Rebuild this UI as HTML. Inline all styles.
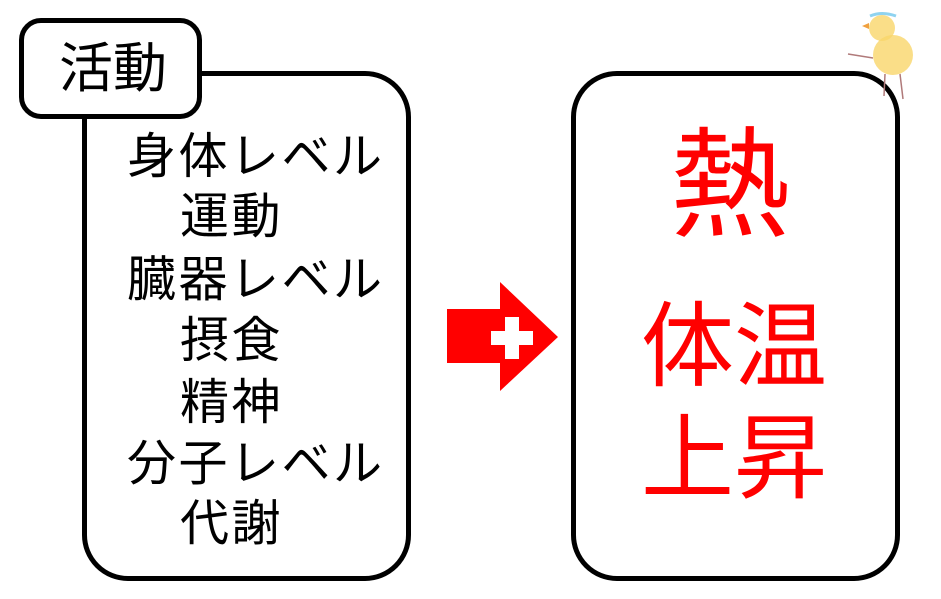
<!DOCTYPE html>
<html><head><meta charset="utf-8"><style>
body{margin:0;width:941px;height:599px;background:#fff;position:relative;overflow:hidden;font-family:"Liberation Sans","Noto Sans CJK JP",sans-serif}
.box{position:absolute;border:5px solid #000;border-radius:46px;background:#fff;box-sizing:border-box}
.t{position:absolute;white-space:nowrap;line-height:1}
.l{letter-spacing:2.5px}
</style></head><body>
<div class="box" style="left:82px;top:71px;width:329px;height:510px"></div>
<div class="box" style="left:571px;top:71px;width:329px;height:510px"></div>
<div class="box" style="left:19px;top:18px;width:183px;height:101px;border-radius:22px"></div>
<div class="t" style="left:59px;top:42px;font-size:54px">活動</div>
<div class="t l" style="left:127px;top:133px;font-size:49px">身体レベル</div>
<div class="t l" style="left:180px;top:193px;font-size:49px">運動</div>
<div class="t l" style="left:127px;top:256px;font-size:49px">臓器レベル</div>
<div class="t l" style="left:180px;top:317px;font-size:49px">摂食</div>
<div class="t l" style="left:180px;top:379px;font-size:49px">精神</div>
<div class="t l" style="left:127px;top:440px;font-size:49px">分子レベル</div>
<div class="t l" style="left:180px;top:500px;font-size:49px">代謝</div>
<div class="t" style="left:670px;top:126px;font-size:120px;color:#f00">熱</div>
<div class="t" style="left:641px;top:301px;font-size:93px;color:#f00">体温</div>
<div class="t" style="left:641px;top:413px;font-size:93px;color:#f00">上昇</div>
<svg style="position:absolute;left:0;top:0" width="941" height="599">
<polygon points="447,309 500,309 500,282 558,337 500,391 500,363 447,363" fill="#f00"/>
<rect x="491" y="331" width="42" height="14" fill="#fff"/>
<rect x="505" y="317" width="14" height="42" fill="#fff"/>
<ellipse cx="893" cy="55" rx="20" ry="20" fill="#f9d66a" opacity="0.8"/>
<ellipse cx="882" cy="28" rx="13" ry="13" fill="#f9d66a" opacity="0.8"/>
<path d="M869,23 l-7,3 l7,3z" fill="#f0a040"/>
<path d="M870,16 q12,-5 26,0" stroke="#8fd3f0" stroke-width="3" fill="none"/>
<path d="M885,74 l-1,22 M900,74 l3,25 M873,58 l-25,-4" stroke="#b07a7a" stroke-width="1.5"/>
</svg>
</body></html>
